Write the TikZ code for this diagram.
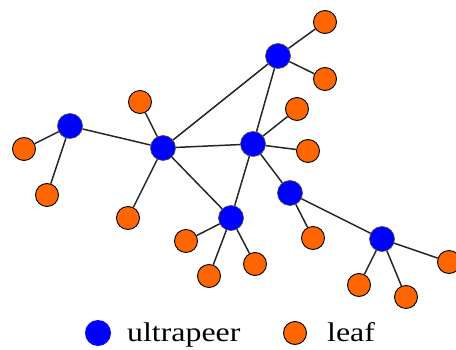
\documentclass[tikz,border=0pt]{standalone}
\usepackage{fontspec}
\setmainfont{Liberation Serif}
\usepackage{graphicx}

\definecolor{peerblue}{RGB}{0,0,255}
\definecolor{leaforange}{RGB}{255,102,0}

\tikzset{
  ultra/.style={circle,fill=peerblue,draw=black!70,line width=0.6pt,minimum size=25pt,inner sep=0pt},
  leaf/.style={circle,fill=leaforange,draw=black,line width=0.9pt,minimum size=23pt,inner sep=0pt},
  link/.style={draw=black!85,line width=1.5pt},
  legtext/.style={anchor=base west,inner sep=0pt,font=\fontsize{27}{32}\selectfont}
}

\begin{document}
\begin{tikzpicture}[x=1pt,y=-1pt]
        \useasboundingbox(0,0)rectangle(456,350);

        % ultrapeers
        \node[ultra](u1)at(70,126){};
        \node[ultra](u2)at(163,148){};
        \node[ultra](u3)at(253,144){};
        \node[ultra](u4)at(278,56){};
        \node[ultra](u5)at(290,193){};
        \node[ultra](u6)at(231,218){};
        \node[ultra](u7)at(382,239){};

        % leaves
        \node[leaf](l1)at(24,149){};
        \node[leaf](l2)at(47,195){};
        \node[leaf](l3)at(140,102){};
        \node[leaf](l4)at(128,218){};
        \node[leaf](l5)at(325,22){};
        \node[leaf](l6)at(325,79){};
        \node[leaf](l7)at(297,109){};
        \node[leaf](l8)at(308,151){};
        \node[leaf](l9)at(186,241){};
        \node[leaf](l10)at(209,276){};
        \node[leaf](l11)at(255,264){};
        \node[leaf](l12)at(313,238){};
        \node[leaf](l13)at(449,262){};
        \node[leaf](l14)at(359,285){};
        \node[leaf](l15)at(406,297){};

        % links between ultrapeers
        \draw[link](u1)--(u2);
        \draw[link](u2)--(u3);
        \draw[link](u2)--(u4);
        \draw[link](u3)--(u4);
        \draw[link](u2)--(u6);
        \draw[link](u3)--(u6);
        \draw[link](u3)--(u5);
        \draw[link](u5)--(u7);

        % links to leaves
        \draw[link](u1)--(l1);
        \draw[link](u1)--(l2);
        \draw[link](u2)--(l3);
        \draw[link](u2)--(l4);
        \draw[link](u4)--(l5);
        \draw[link](u4)--(l6);
        \draw[link](u3)--(l7);
        \draw[link](u3)--(l8);
        \draw[link](u6)--(l9);
        \draw[link](u6)--(l10);
        \draw[link](u6)--(l11);
        \draw[link](u5)--(l12);
        \draw[link](u7)--(l13);
        \draw[link](u7)--(l14);
        \draw[link](u7)--(l15);

        % legend
        \node[ultra,draw=none,minimum size=26pt](kultra)at(98,333){};
        \node[legtext](tultra)at(127,342){\scalebox{1.18}[1]{ultrapeer}};
        \node[leaf](kleaf)at(295,333){};
        \node[legtext](tleaf)at(327,342){\scalebox{1.18}[1]{leaf}};
    \end{tikzpicture}
\end{document}
